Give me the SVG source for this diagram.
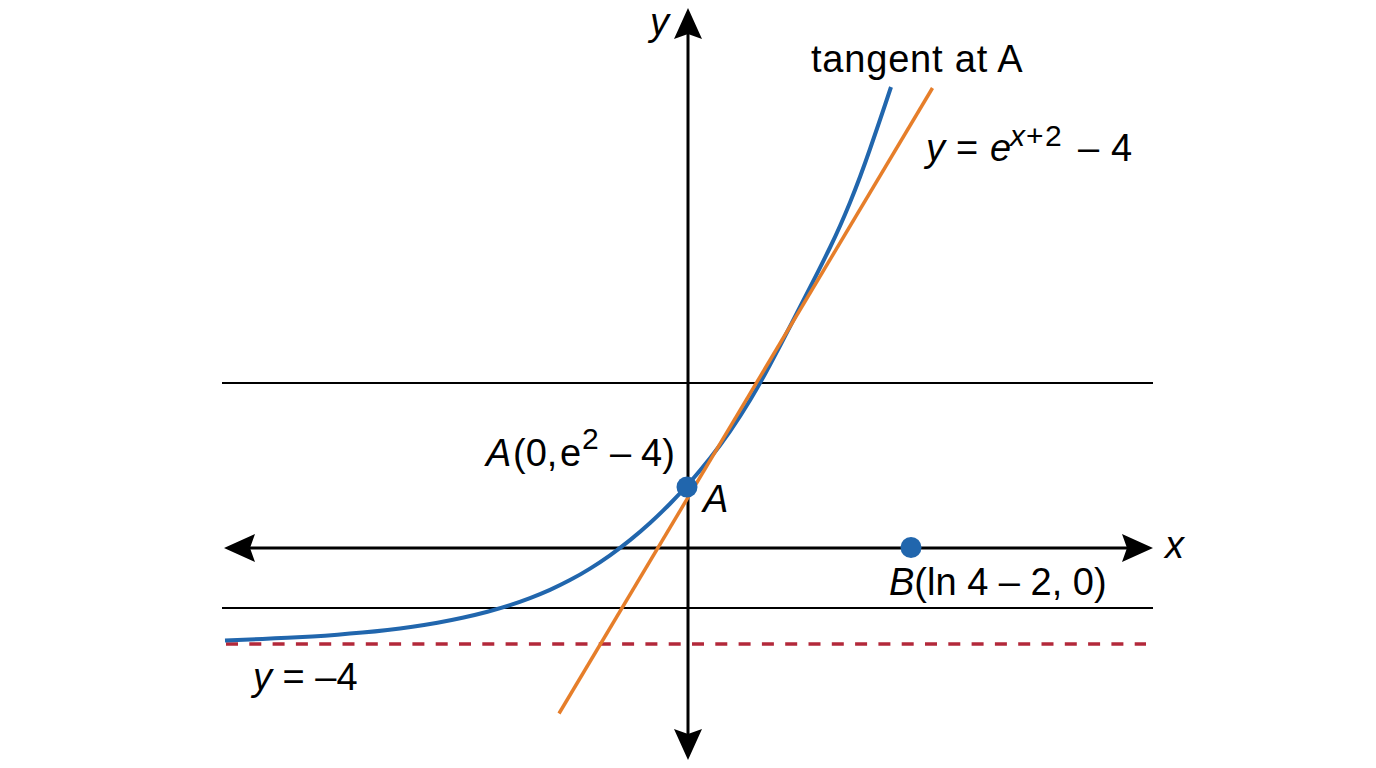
<svg xmlns="http://www.w3.org/2000/svg" width="1376" height="768" viewBox="0 0 1376 768">
<style>
.ax{stroke:#000;stroke-width:3;fill:none}
.grid{stroke:#000;stroke-width:2;fill:none}
.asym{stroke:#b3283a;stroke-width:3.5;stroke-dasharray:12 11.3;fill:none}
.curve{stroke:#2166ad;stroke-width:4;fill:none;stroke-linejoin:round}
.tan{stroke:#e67e2a;stroke-width:3.5;fill:none}
.dot{fill:#2166ad}
text{font-family:"Liberation Sans",Arial,Helvetica,sans-serif;font-size:38px;fill:#000}
.i{font-style:italic}
.sup{font-size:30px}
</style>
<defs>
<marker id="arr" markerUnits="userSpaceOnUse" markerWidth="32" markerHeight="30" viewBox="0 0 32 30" refX="5" refY="15" orient="auto-start-reverse">
<path d="M31,15 L0,1 L5,15 L0,29 Z" fill="#000"/>
</marker>
</defs>
<rect width="1376" height="768" fill="#fff"/>
<g id="gridlines">
<line class="grid" x1="222" y1="383" x2="1153" y2="383"/>
<line class="grid" x1="222" y1="608" x2="1153" y2="608"/>
</g>
<g id="asymptote">
<line class="asym" x1="226" y1="644" x2="1146" y2="644"/>
</g>
<g id="axes">
<line class="ax" x1="250" y1="548" x2="1127" y2="548" marker-start="url(#arr)" marker-end="url(#arr)"/>
<line class="ax" x1="688" y1="734" x2="688" y2="34" marker-start="url(#arr)" marker-end="url(#arr)"/>
</g>
<g id="curve">
<path class="curve" d="M225,640.4 L237.5,639.95 Q250,639.5 262.5,639 Q275,638.5 287.5,637.85 Q300,637.2 312.5,636.45 Q325,635.7 337.5,634.7 Q350,633.7 362.5,632.55 Q375,631.4 387.5,629.95 Q400,628.5 412.5,626.7 Q425,624.9 437.5,622.7 Q450,620.5 462.5,617.75 Q475,615 487.5,611.7 Q500,608.4 510,605.15 Q520,601.9 530,598.1 Q540,594.3 550,589.85 Q560,585.4 570,580.1 Q580,574.8 590,568.6 Q600,562.4 610,555.3 Q620,548.2 630,540.15 Q640,532.1 650,523 Q660,513.9 670,503.75 Q680,493.6 690,482.25 Q700,470.9 710,458.3 Q720,445.7 730,431.25 Q740,416.8 750,400.2 Q760,383.6 770,364.8 Q780,346 790,326.5 Q800,307 810,287.5 Q820,268 830,247.5 Q840,227 850,202.5 Q860,178 870,149 Q880,120 885.5,103.5 L891,87"/>
</g>
<g id="tangent">
<line class="tan" x1="559" y1="713.5" x2="932.5" y2="88"/>
</g>
<g id="pointA">
<circle class="dot" cx="687" cy="487" r="10.5"/>
<text x="703" y="512" class="i">A</text>
</g>
<g id="pointB">
<circle class="dot" cx="911" cy="547.5" r="10.5"/>
<text x="889" y="595" xml:space="preserve"><tspan class="i">B</tspan>(ln 4 – 2, 0)</text>
</g>
<g id="labels">
<text x="650" y="35" class="i">y</text>
<text x="1165" y="558" class="i">x</text>
<text x="811" y="72" letter-spacing="0.8">tangent at A</text>
<text y="161"><tspan x="926" class="i">y</tspan><tspan x="956">=</tspan><tspan x="990" class="i">e</tspan><tspan x="1010" y="146" class="sup i">x</tspan><tspan x="1026" y="146" class="sup">+</tspan><tspan x="1045" y="146" class="sup">2</tspan><tspan x="1078" y="161">–</tspan><tspan x="1111">4</tspan></text>
<text y="466"><tspan x="486" class="i">A</tspan><tspan x="513">(0,</tspan><tspan x="560">e</tspan><tspan x="582" y="449" class="sup">2</tspan><tspan x="610" y="466">–</tspan><tspan x="641">4)</tspan></text>
<text x="253" y="690" xml:space="preserve"><tspan class="i">y</tspan> = –4</text>
</g>
</svg>
